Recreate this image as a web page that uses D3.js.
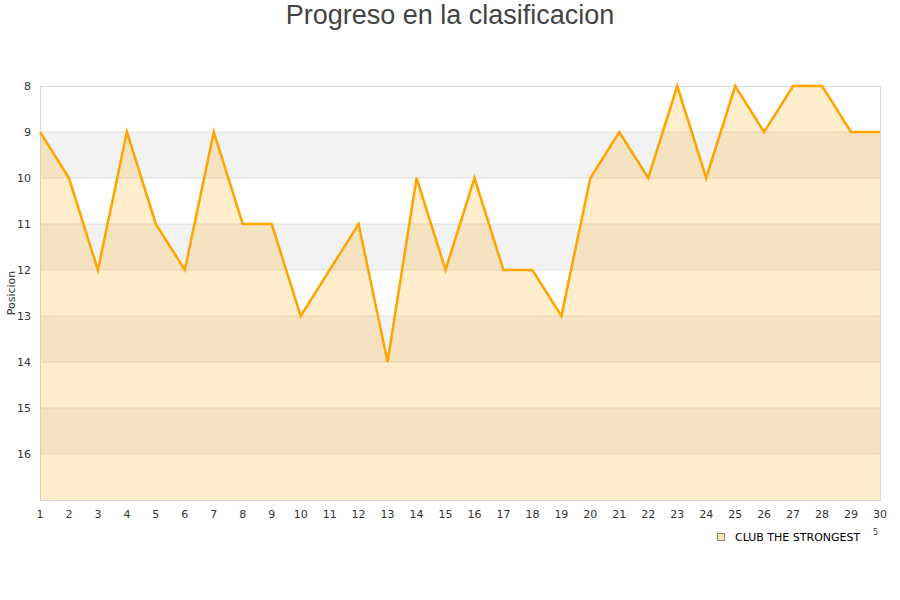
<!DOCTYPE html>
<html>
<head>
<meta charset="utf-8">
<style>
body { margin: 0; background: #fff; }
</style>
</head>
<body>
<div id="chart"></div>
<script src="https://d3js.org/d3.v7.min.js"></script>
<script>
// jornadas y posiciones
var jornadas = [1, 2, 3, 4, 5, 6, 7, 8, 9, 10, 11, 12, 13, 14, 15, 16, 17, 18, 19, 20, 21, 22, 23, 24, 25, 26, 27, 28, 29, 30];
var posiciones = [9, 10, 12, 9, 11, 12, 9, 11, 11, 13, 12, 11, 14, 10, 12, 10, 12, 12, 13, 10, 9, 10, 8, 10, 8, 9, 8, 8, 9, 9];
var yTicks = [8, 9, 10, 11, 12, 13, 14, 15, 16];
var serie = "CLUB THE STRONGEST";

var W = 900, H = 600;
var svg = d3.select("#chart").append("svg").attr("width", W).attr("height", H);

var x = d3.scaleLinear().domain([1, 30]).range([40, 880]);
var y = d3.scaleLinear().domain([8, 17]).range([86, 500]);

// title
svg.append("text")
    .attr("x", 450).attr("y", 24)
    .attr("text-anchor", "middle")
    .style("font-family", "Liberation Sans, Arial, sans-serif")
    .style("font-size", "27px")
    .style("fill", "#444")
    .text("Progreso en la clasificacion");

// alternating bands
svg.selectAll("rect.band")
    .data([9, 11, 13, 15])
    .enter().append("rect")
    .attr("x", x(1)).attr("width", x(30) - x(1))
    .attr("y", function (d) { return y(d); })
    .attr("height", function (d) { return y(d + 1) - y(d); })
    .style("fill", "#f2f2f2");

// grid lines
svg.selectAll("line.grid")
    .data(yTicks.slice(1))
    .enter().append("line")
    .attr("x1", x(1)).attr("x2", x(30))
    .attr("y1", function (d) { return y(d); })
    .attr("y2", function (d) { return y(d); })
    .style("stroke", "#e0e0e0")
    .style("stroke-width", 1);

// plot border
svg.append("rect")
    .attr("x", x(1) + 0.5).attr("y", y(8) + 0.5)
    .attr("width", x(30) - x(1)).attr("height", y(17) - y(8))
    .style("fill", "none")
    .style("stroke", "#d9d9d9");

var datos = jornadas.map(function (j, i) { return [j, posiciones[i]]; });

// area
svg.append("path")
    .datum(datos)
    .attr("d", d3.area()
        .x(function (d) { return x(d[0]); })
        .y0(y(17))
        .y1(function (d) { return y(d[1]); }))
    .style("fill", "#ffa500")
    .style("fill-opacity", 0.2);

// line
svg.append("path")
    .datum(datos)
    .attr("d", d3.line()
        .x(function (d) { return x(d[0]); })
        .y(function (d) { return y(d[1]); }))
    .style("fill", "none")
    .style("stroke", "#ffa500")
    .style("stroke-width", 2.5)
    .style("stroke-linejoin", "miter");

// y axis labels
svg.selectAll("text.ytick")
    .data(yTicks)
    .enter().append("text")
    .attr("x", 31)
    .attr("y", function (d) { return y(d) + 4; })
    .attr("text-anchor", "end")
    .style("font-family", "DejaVu Sans, sans-serif")
    .style("font-size", "11px")
    .style("fill", "#333")
    .text(function (d) { return d; });

// x axis labels
svg.selectAll("text.xtick")
    .data(jornadas)
    .enter().append("text")
    .attr("x", function (d) { return x(d); })
    .attr("y", 518)
    .attr("text-anchor", "middle")
    .style("font-family", "DejaVu Sans, sans-serif")
    .style("font-size", "11px")
    .style("fill", "#333")
    .text(function (d) { return d; });

// y axis title
svg.append("text")
    .attr("transform", "translate(15," + ((y(8) + y(17)) / 2) + ") rotate(-90)")
    .attr("text-anchor", "middle")
    .style("font-family", "DejaVu Sans, sans-serif")
    .style("font-size", "11px")
    .style("fill", "#333")
    .text("Posicion");

// legend
svg.append("rect")
    .attr("x", 717.5).attr("y", 533.5)
    .attr("width", 7).attr("height", 7)
    .style("fill", "#ffe4b3")
    .style("stroke", "#888");
svg.append("text")
    .attr("x", 735).attr("y", 541)
    .style("font-family", "DejaVu Sans, sans-serif")
    .style("font-size", "11px")
    .style("fill", "#000")
    .text(serie);
svg.append("text")
    .attr("x", 873).attr("y", 535)
    .style("font-family", "DejaVu Sans, sans-serif")
    .style("font-size", "8px")
    .style("fill", "#333")
    .text("5");
</script>
</body>
</html>
